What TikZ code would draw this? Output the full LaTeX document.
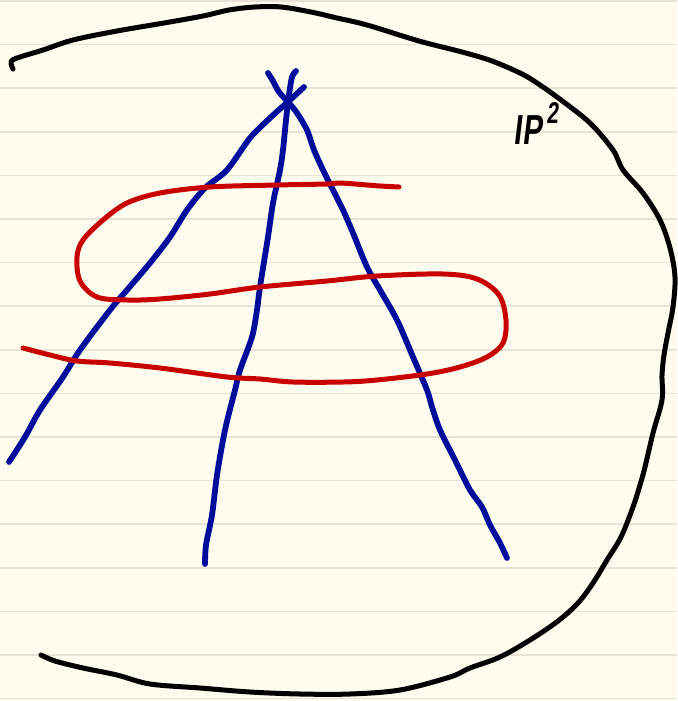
\documentclass[tikz,border=0pt]{standalone}
\usepackage{fontspec}
\setsansfont{Liberation Sans}
\definecolor{paper}{HTML}{FDFCEE}
\definecolor{rule}{HTML}{E6E3D6}
\definecolor{inkblue}{HTML}{000C9A}
\definecolor{inkred}{HTML}{C80000}
\tikzset{
  pen/.style={line width=5pt, line cap=round, line join=round},
  blackpen/.style={pen, black},
  bluepen/.style={pen, line width=5.8pt, inkblue},
  redpen/.style={pen, line width=5pt, inkred},
}
\begin{document}
\begin{tikzpicture}[x=1pt,y=-1pt]
\fill[paper] (0,0) rectangle (677,701);
\useasboundingbox (0,0) rectangle (677,701);
\foreach \k in {0,...,16} {
  \draw[rule, line width=1.6pt] (0,{0.9+43.6*\k}) -- (677,{0.9+43.6*\k});
}
% big black curve (projective plane)
\draw[blackpen] plot[smooth, tension=0.55] coordinates {
 (13,69) (11,62) (17,58) (43,50) (73,40) (117,31) (164,23) (203,16)
 (229,10) (255,7) (281,7) (311,12) (337,18) (367,25) (419,41) (462,52)
 (492,61) (522,74) (540,85) (561,100) (590,123) (613,150) (623,170)
 (643,193) (660,220) (670,248) (675,277) (673,307) (668,333) (664,355)
 (662,375) (662,400) (653,433) (645,467) (640,485) (633,507) (621,537)
 (607,560) (593,583) (578,603) (558,621) (530,640) (500,657) (470,668)
 (450,677) (400,690) (350,694) (300,694) (250,692) (200,688) (150,684)
 (117,675) (83,668) (55,661) (41,655)};
% label
\node[xslant=0.12] (lbl) at (537,124) {\sffamily\bfseries\fontsize{42}{42}\selectfont\scalebox{0.7}[1]{I\kern0.04em P\kern0.05em\raisebox{0.5em}{\fontsize{30}{30}\selectfont 2}}};
% blue lines
\draw[bluepen] plot[smooth, tension=0.5] coordinates {
 (304,87) (290,100) (270,118) (250,138) (227,170) (205,188) (187,210)
 (170,237) (150,263) (127,290) (110,310) (80,350) (63,377) (40,410)
 (25,437) (9,462)};
\draw[bluepen] plot[smooth, tension=0.5] coordinates {
 (296,71) (292,77) (289,95) (286,120) (283,150) (280,170) (273,203)
 (268,237) (260,287) (257,310) (252,337) (240,370) (235,390) (225,430)
 (217,475) (212,515) (206,545) (205,564)};
\draw[bluepen] plot[smooth, tension=0.5] coordinates {
 (268,73) (273,81) (279,92) (289,103) (297,113) (307,130) (314,150)
 (323,170) (333,190) (343,210) (353,233) (367,267) (380,290) (397,320)
 (413,357) (427,390) (432,407) (440,430) (455,460) (470,490) (482,507)
 (490,525) (500,543) (507,558)};
% red curve
\draw[redpen] plot[smooth, tension=0.55] coordinates {
 (399,187) (380,186) (367,185) (340,183) (327,184) (277,185) (210,187)
 (160,193) (127,203) (103,220) (83,240) (77,257) (80,281) (97,297)
 (127,300) (160,299) (210,294) (260,287) (327,281) (377,276) (443,274)
 (477,279) (499,295) (506,320) (503,343) (487,357) (460,367) (427,374)
 (377,380) (343,382) (293,382) (260,379) (227,377) (160,368) (110,363)
 (77,361) (50,355) (23,348)};
\end{tikzpicture}
\end{document}
